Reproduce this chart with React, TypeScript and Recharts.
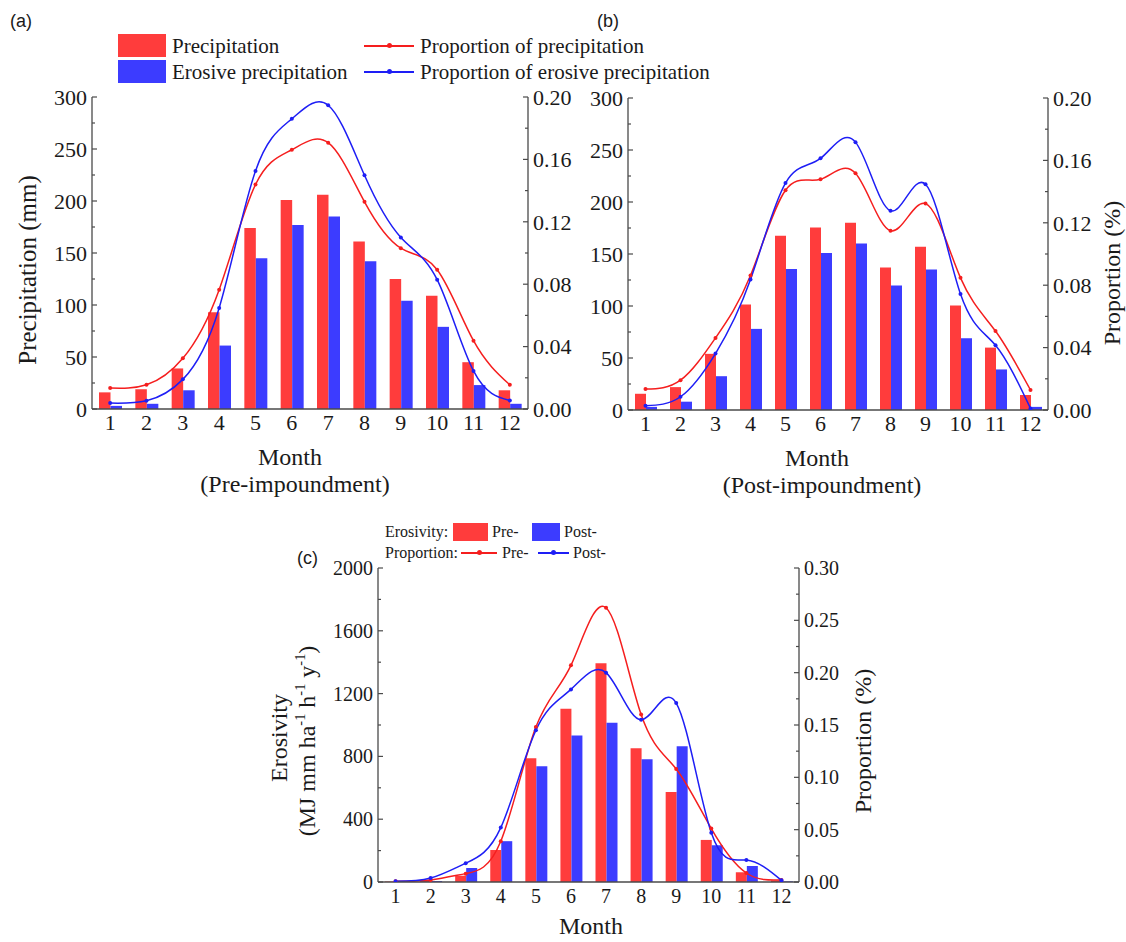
import React from 'react'
import { ComposedChart, Bar, Line, XAxis, YAxis } from 'recharts'

// Month categories shared by all three panels
const months = ['1', '2', '3', '4', '5', '6', '7', '8', '9', '10', '11', '12']

// (a) pre-impoundment precipitation (mm) and proportions
const preRain = [16, 19, 39, 93, 174, 201, 206, 161, 125, 109, 45, 18]
const preErosiveRain = [3, 5, 18, 61, 145, 177, 185, 142, 104, 79, 23, 5]
const preRainShare = [0.0134, 0.0155, 0.0325, 0.0765, 0.1439, 0.1662, 0.1707, 0.1328, 0.1031, 0.0893, 0.0438, 0.0155]
const preErosiveShare = [0.0038, 0.0053, 0.019, 0.0648, 0.1526, 0.186, 0.1947, 0.1498, 0.11, 0.0829, 0.0244, 0.0055]

// (b) post-impoundment precipitation (mm) and proportions
const postRain = [15.6, 22, 54, 101.5, 167.5, 175.5, 180, 137, 157, 100.5, 60, 14.4]
const postErosiveRain = [3, 8, 32.5, 78, 135.6, 151, 160, 119.7, 135, 69, 39, 3]
const postRainShare = [0.0134, 0.0191, 0.0462, 0.0862, 0.1409, 0.1479, 0.1517, 0.1149, 0.1323, 0.0847, 0.0506, 0.0128]
const postErosiveShare = [0.0028, 0.0085, 0.0362, 0.0836, 0.1455, 0.1613, 0.1717, 0.1277, 0.1447, 0.0743, 0.0415, 0.001]

// (c) rainfall erosivity pre/post and proportions
const erosivityPre = [3, 10, 40, 204, 788, 1103, 1393, 852, 573, 268, 62, 10]
const erosivityPost = [2, 6, 89, 260, 737, 933, 1014, 782, 865, 234, 102, 4]
const erosivitySharePre = [0.0006, 0.002, 0.008, 0.039, 0.148, 0.207, 0.262, 0.16, 0.108, 0.051, 0.0086, 0.002]
const erosivitySharePost = [0.0006, 0.0038, 0.018, 0.052, 0.145, 0.184, 0.2, 0.155, 0.171, 0.047, 0.021, 0.0016]

// axis ticks (major + minor)
const rainTicks = [0, 25, 50, 75, 100, 125, 150, 175, 200, 225, 250, 275, 300]
const shareTicks = [0, 0.02, 0.04, 0.06, 0.08, 0.1, 0.12, 0.14, 0.16, 0.18, 0.2]
const erosivityTicks = [0, 200, 400, 600, 800, 1000, 1200, 1400, 1600, 1800, 2000]
const erosivityShareTicks = [0, 0.025, 0.05, 0.075, 0.1, 0.125, 0.15, 0.175, 0.2, 0.225, 0.25, 0.275, 0.3]

const RED = '#ff3c3c'
const BLUE = '#3c3cff'
const RED_LINE = '#f51e1e'
const BLUE_LINE = '#1e1ef5'
const AXIS = '#4a4a4a'
const TEXT = '#1a1a1a'
const SERIF = '"Liberation Serif", "Times New Roman", serif'
const SANS = '"Liberation Sans", Arial, sans-serif'

const isMajor = (v: number, step: number) => Math.abs(v / step - Math.round(v / step)) < 1e-6

// y tick drawn inward, label outside
const makeYTick = (axisX: number, side: 'left' | 'right', step: number, digits: number, size: number) =>
  (props: any) => {
    const { y, payload } = props
    const v = payload.value as number
    const major = isMajor(v, step)
    const dir = side === 'left' ? 1 : -1
    const len = major ? 5 : 3
    return (
      <g>
        <line x1={axisX} x2={axisX + dir * len} y1={y} y2={y} stroke={AXIS} strokeWidth={1.2} />
        {major && (
          <text
            x={side === 'left' ? axisX - 5 : axisX + 5}
            y={y}
            dy="0.35em"
            textAnchor={side === 'left' ? 'end' : 'start'}
            fontFamily={SERIF}
            fontSize={size}
            fill={TEXT}
          >
            {v.toFixed(digits)}
          </text>
        )}
      </g>
    )
  }

const makeXTick = (axisY: number, size: number) => (props: any) => (
  <text x={props.x} y={axisY + 21} textAnchor="middle" fontFamily={SERIF} fontSize={size} fill={TEXT}>
    {props.payload.value}
  </text>
)

interface PanelProps {
  left: number
  top: number
  width: number
  height: number
  plot: { x0: number; x1: number; y0: number; y1: number }
  barA: number[]
  barB: number[]
  lineA: number[]
  lineB: number[]
  leftMax: number
  leftTicks: number[]
  leftStep: number
  rightMax: number
  rightTicks: number[]
  rightStep: number
  fontSize: number
  barSize: number
}

function Panel(p: PanelProps) {
  const data = months.map((m, i) => ({
    month: m,
    barA: p.barA[i],
    barB: p.barB[i],
    lineA: p.lineA[i],
    lineB: p.lineB[i],
  }))
  const { x0, x1, y0, y1 } = p.plot
  return (
    <div style={{ position: 'absolute', left: p.left, top: p.top }}>
      <ComposedChart
        width={p.width}
        height={p.height}
        data={data}
        margin={{ top: y0, right: 0, bottom: 0, left: 0 }}
        barGap={0}
      >
        <XAxis
          xAxisId="bottom"
          dataKey="month"
          height={p.height - y1}
          axisLine={{ stroke: AXIS, strokeWidth: 1.3 }}
          tickLine={false}
          interval={0}
          tick={makeXTick(y1, p.fontSize)}
        />
        <XAxis xAxisId="top" dataKey="month" orientation="top" height={0} tick={false} tickLine={false}
          axisLine={{ stroke: AXIS, strokeWidth: 1.3 }} />
        <YAxis
          yAxisId="left"
          width={x0}
          domain={[0, p.leftMax]}
          ticks={p.leftTicks}
          interval={0}
          allowDataOverflow
          axisLine={{ stroke: AXIS, strokeWidth: 1.3 }}
          tickLine={false}
          tick={makeYTick(x0, 'left', p.leftStep, 0, p.fontSize)}
        />
        <YAxis
          yAxisId="right"
          orientation="right"
          width={p.width - x1}
          domain={[0, p.rightMax]}
          ticks={p.rightTicks}
          interval={0}
          allowDataOverflow
          axisLine={{ stroke: AXIS, strokeWidth: 1.3 }}
          tickLine={false}
          tick={makeYTick(x1, 'right', p.rightStep, 2, p.fontSize)}
        />
        <Bar xAxisId="bottom" yAxisId="left" dataKey="barA" fill={RED} barSize={p.barSize} isAnimationActive={false} />
        <Bar xAxisId="bottom" yAxisId="left" dataKey="barB" fill={BLUE} barSize={p.barSize} isAnimationActive={false} />
        <Line xAxisId="bottom" yAxisId="right" type="natural" dataKey="lineA" stroke={RED_LINE} strokeWidth={1.5}
          dot={{ r: 2, fill: RED_LINE, stroke: RED_LINE, strokeWidth: 0 }} isAnimationActive={false} />
        <Line xAxisId="bottom" yAxisId="right" type="natural" dataKey="lineB" stroke={BLUE_LINE} strokeWidth={1.5}
          dot={{ r: 2, fill: BLUE_LINE, stroke: BLUE_LINE, strokeWidth: 0 }} isAnimationActive={false} />
      </ComposedChart>
    </div>
  )
}

// plain text placed by its left edge (or centre) and vertical centre
function T({ x, y, size, center, rotate, font, children }: any) {
  const tx = center || rotate ? '-50%' : '0'
  return (
    <div
      style={{
        position: 'absolute',
        left: x,
        top: y,
        fontSize: size,
        fontFamily: font || SERIF,
        color: TEXT,
        whiteSpace: 'nowrap',
        lineHeight: 1,
        transform: `translate(${tx}, -50%)${rotate ? ' rotate(-90deg)' : ''}`,
      }}
    >
      {children}
    </div>
  )
}

function Box({ x, y, w, h, color }: any) {
  return <div style={{ position: 'absolute', left: x, top: y, width: w, height: h, background: color }} />
}

function LineKey({ x, y, w, color }: any) {
  return (
    <div style={{ position: 'absolute', left: x, top: y - 1, width: w, height: 1.6, background: color }}>
      <div style={{ position: 'absolute', left: w / 2 - 2.5, top: -1.7, width: 5, height: 5, borderRadius: 3, background: color }} />
    </div>
  )
}

export default function App() {
  const sup = { fontSize: '0.6em', verticalAlign: '0.7em' }
  return (
    <div style={{ position: 'relative', width: 1126, height: 942, background: '#fff', overflow: 'hidden' }}>
      <style>{'body{margin:0}'}</style>

      <Panel
        left={0} top={0} width={600} height={470}
        plot={{ x0: 92, x1: 528, y0: 97, y1: 409 }}
        barA={preRain} barB={preErosiveRain} lineA={preRainShare} lineB={preErosiveShare}
        leftMax={300} leftTicks={rainTicks} leftStep={50}
        rightMax={0.2} rightTicks={shareTicks} rightStep={0.04}
        fontSize={22} barSize={11.5}
      />
      <Panel
        left={560} top={0} width={566} height={470}
        plot={{ x0: 68, x1: 488, y0: 98, y1: 410 }}
        barA={postRain} barB={postErosiveRain} lineA={postRainShare} lineB={postErosiveShare}
        leftMax={300} leftTicks={rainTicks} leftStep={50}
        rightMax={0.2} rightTicks={shareTicks} rightStep={0.04}
        fontSize={22} barSize={11}
      />
      <Panel
        left={270} top={500} width={600} height={442}
        plot={{ x0: 108, x1: 529, y0: 68, y1: 382 }}
        barA={erosivityPre} barB={erosivityPost} lineA={erosivitySharePre} lineB={erosivitySharePost}
        leftMax={2000} leftTicks={erosivityTicks} leftStep={400}
        rightMax={0.3} rightTicks={erosivityShareTicks} rightStep={0.05}
        fontSize={20} barSize={11}
      />

      {/* panel tags */}
      <T x={10} y={21} size={18} font={SANS}>(a)</T>
      <T x={597} y={21} size={18} font={SANS}>(b)</T>
      <T x={297} y={558} size={18} font={SANS}>(c)</T>

      {/* legend (a)/(b) */}
      <Box x={118} y={34} w={48} h={23} color={RED} />
      <Box x={118} y={60} w={48} h={23} color={BLUE} />
      <T x={172} y={46} size={21}>Precipitation</T>
      <T x={172} y={72} size={21}>Erosive precipitation</T>
      <LineKey x={364} y={46} w={50} color={RED_LINE} />
      <LineKey x={364} y={72} w={50} color={BLUE_LINE} />
      <T x={420} y={46} size={21}>Proportion of precipitation</T>
      <T x={420} y={72} size={21}>Proportion of erosive precipitation</T>

      {/* axis titles (a) */}
      <T x={27} y={270} size={25} rotate>Precipitation (mm)</T>
      <T x={290} y={457} size={24} center>Month</T>
      <T x={295} y={484} size={24} center>(Pre-impoundment)</T>

      {/* axis titles (b) */}
      <T x={1112} y={273} size={24} rotate>Proportion (%)</T>
      <T x={817} y={458} size={24} center>Month</T>
      <T x={822} y={485} size={24} center>(Post-impoundment)</T>

      {/* legend (c) */}
      <T x={385} y={532} size={16}>Erosivity:</T>
      <Box x={453} y={523} w={35} h={18} color={RED} />
      <T x={492} y={532} size={16}>Pre-</T>
      <Box x={532} y={523} w={28} h={18} color={BLUE} />
      <T x={564} y={532} size={16}>Post-</T>
      <T x={385} y={553} size={16}>Proportion:</T>
      <LineKey x={461} y={553} w={36} color={RED_LINE} />
      <T x={502} y={553} size={16}>Pre-</T>
      <LineKey x={538} y={553} w={31} color={BLUE_LINE} />
      <T x={573} y={553} size={16}>Post-</T>

      {/* axis titles (c) */}
      <T x={279} y={738} size={24} rotate>Erosivity</T>
      <T x={306} y={741} size={24} rotate>
        (MJ mm ha<span style={sup}>-1</span> h<span style={sup}>-1</span> y<span style={sup}>-1</span>)
      </T>
      <T x={863} y={741} size={24} rotate>Proportion (%)</T>
      <T x={591} y={926} size={24} center>Month</T>
    </div>
  )
}
